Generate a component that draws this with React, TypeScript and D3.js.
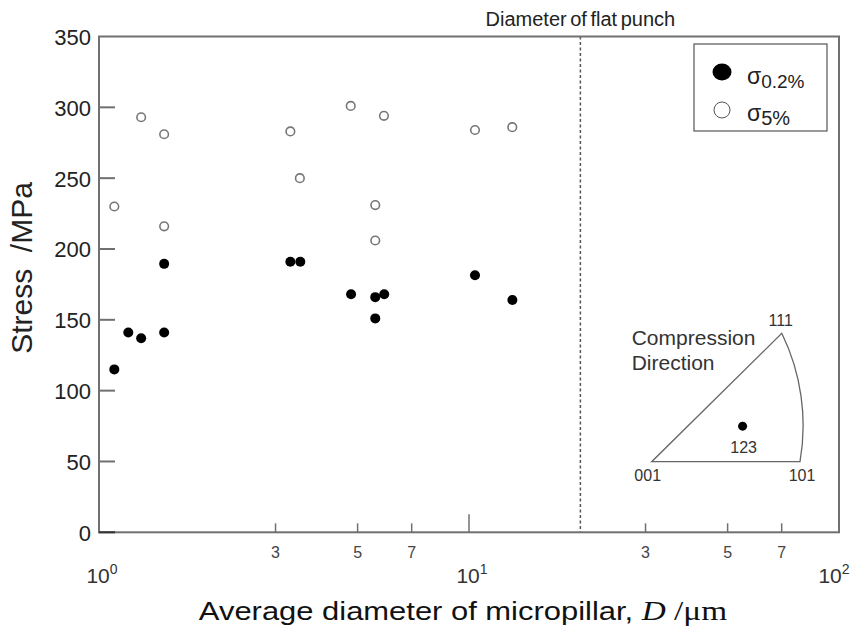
import React from 'react';
import * as d3 from 'd3';

const sigma02Diam = [1.1, 1.2, 1.3, 1.5, 1.5, 3.29, 3.5, 4.8, 5.58, 5.9, 5.58, 10.38, 13.1];
const sigma02Stress = [115, 141, 137, 189.5, 141, 191, 191, 168, 166, 168, 151, 181.5, 164];
const sigma5Diam = [1.1, 1.3, 1.5, 1.5, 3.29, 3.49, 4.79, 5.89, 5.58, 5.58, 10.38, 13.09];
const sigma5Stress = [230, 293, 281, 216, 283, 250, 301, 294, 231, 206, 284, 286];

const yTicks = [0, 50, 100, 150, 200, 250, 300, 350];
const minorTicks = [3, 5, 7, 30, 50, 70];
const majorTicks = [10];
const decadeLabels = [1, 10, 100];
const punchDiameter = 20;

const W = 853;
const H = 633;
const font = '"Liberation Sans", Arial, sans-serif';
const serif = '"Liberation Serif", "Times New Roman", serif';
const axisColor = '#707070';

export default function App() {
  const x = d3.scaleLog().domain([1, 100]).range([99, 839]);
  const y = d3.scaleLinear().domain([0, 350]).range([532.3, 36.5]);
  const [x0, x1] = x.range();
  const [y0, y1] = y.range();

  // inverse pole figure inset, local unit coords
  const ipx = d3.scaleLinear().domain([0, 1]).range([651.7, 800]);
  const ipy = d3.scaleLinear().domain([0, 1]).range([461.7, 333.3]);
  const v001 = [ipx(0), ipy(0)];
  const v101 = [ipx(1), ipy(0)];
  const v111 = [ipx(0.877), ipy(1)];
  const ipfPath = `M${v001[0]},${v001[1]} L${v101[0]},${v101[1]} A210,210 0 0 0 ${v111[0]},${v111[1]} Z`;

  return (
    <svg width={W} height={H} style={{ position: 'absolute', left: 0, top: 0, background: '#fff' }}
      fontFamily={font}>
      {/* dashed punch line + label */}
      <line x1={x(punchDiameter)} x2={x(punchDiameter)} y1={y1} y2={y0}
        stroke="#555" strokeWidth={1.5} strokeDasharray="3,2.5" />
      <text x={x(punchDiameter)} y={26} textAnchor="middle" fontSize={20} wordSpacing={-2}
        fill="#222">Diameter of flat punch</text>

      {/* frame */}
      <rect x={x0} y={y1} width={x1 - x0} height={y0 - y1} fill="none" stroke={axisColor} strokeWidth={2} />

      {/* y ticks */}
      {yTicks.map(t => (
        <g key={t}>
          {t < 350 && <line x1={x0} x2={x0 + 16} y1={y(t)} y2={y(t)} stroke={t === 0 ? '#333' : axisColor} strokeWidth={2} />}
          <text x={91} y={y(t)} dy="0.38em" textAnchor="end" fontSize={22} fill="#222">{t}</text>
        </g>
      ))}

      {/* x ticks */}
      {minorTicks.map(t => (
        <g key={t}>
          <line x1={x(t)} x2={x(t)} y1={y0} y2={y0 - 9} stroke={axisColor} strokeWidth={1.5} />
          <text x={x(t)} y={558} textAnchor="middle" fontSize={16} fill="#444">{String(t).charAt(0)}</text>
        </g>
      ))}
      {majorTicks.map(t => (
        <line key={t} x1={x(t)} x2={x(t)} y1={y0} y2={y0 - 18} stroke={axisColor} strokeWidth={1.5} />
      ))}
      {decadeLabels.map(t => (
        <text key={t} x={Math.min(x(t) + 3, 834)} y={583} textAnchor="middle" fontSize={21} fill="#333">
          10<tspan dy={-9} fontSize={14}>{Math.round(Math.log10(t))}</tspan>
        </text>
      ))}

      {/* points */}
      {sigma5Stress.map((v, i) => (
        <circle key={'o' + i} cx={x(sigma5Diam[i])} cy={y(v)} r={4.3} fill="#fff" stroke="#777" strokeWidth={1.6} />
      ))}
      {sigma02Stress.map((v, i) => (
        <circle key={'f' + i} cx={x(sigma02Diam[i])} cy={y(v)} r={5} fill="#000" />
      ))}

      {/* legend */}
      <rect x={694} y={44} width={133} height={87} fill="#fff" stroke="#555" strokeWidth={1.2} />
      <ellipse cx={722} cy={72} rx={9.5} ry={8.5} fill="#000" />
      <circle cx={722} cy={110} r={8} fill="#fff" stroke="#555" strokeWidth={1} />
      <text x={747} y={84} fontSize={23} fill="#222">σ<tspan dy={3.5} fontSize={19}>0.2%</tspan></text>
      <text x={747} y={121} fontSize={23} fill="#222">σ<tspan dy={3.5} fontSize={20}>5%</tspan></text>

      {/* inset: inverse pole figure */}
      <path d={ipfPath} fill="none" stroke="#666" strokeWidth={1.3} />
      <circle cx={ipx(0.613)} cy={ipy(0.277)} r={4.5} fill="#000" />
      <text x={631.7} y={345} fontSize={21} fill="#333">Compression</text>
      <text x={631.7} y={370} fontSize={21} fill="#333">Direction</text>
      <text x={v111[0] - 1} y={326} textAnchor="middle" fontSize={16} fill="#333">111</text>
      <text x={ipx(0.62)} y={453} textAnchor="middle" fontSize={16} fill="#333">123</text>
      <text x={v001[0] - 4} y={481} textAnchor="middle" fontSize={16} fill="#333">001</text>
      <text x={v101[0] + 2} y={481} textAnchor="middle" fontSize={16} fill="#333">101</text>

      {/* axis titles */}
      <text transform="translate(32,268) rotate(-90)" textAnchor="middle" fontSize={30} fill="#222"
        style={{ whiteSpace: 'pre' }}>{'Stress  /MPa'}</text>
      <text transform="translate(463,620) scale(1.19,1)" textAnchor="middle" fontSize={26} fill="#111">
        Average diameter of micropillar,{' '}
        <tspan fontFamily={serif} fontStyle="italic" fontSize={28}>D</tspan>
        <tspan fontFamily={serif} fontSize={28}> /μm</tspan>
      </text>
    </svg>
  );
}
